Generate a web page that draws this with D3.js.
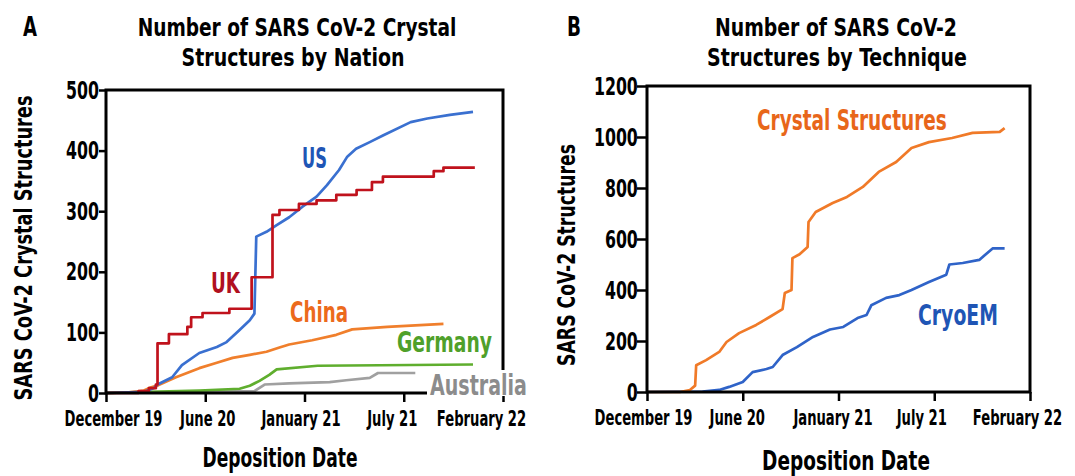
<!DOCTYPE html>
<html><head><meta charset="utf-8">
<script src="https://cdn.jsdelivr.net/npm/d3@7"></script>
<style>
body{margin:0;background:#fff;}
svg{display:block;}
text{font-family:"Liberation Sans Narrow","DejaVu Sans Condensed","Roboto Condensed",sans-serif;font-weight:bold;}
</style></head><body>
<svg id="chart" width="1075" height="476"></svg>
<script>
// ---------- data ----------
const tickDates = ["2019-12-01","2020-06-01","2021-01-01","2021-07-01","2022-02-01"];
const tickLabels = ["December 19","June 20","January 21","July 21","February 22"];
const yTicksA = [0,100,200,300,400,500];
const yTicksB = [0,200,400,600,800,1000,1200];

const ukData = [["2019-12-01",0],["2020-01-30",3],["2020-02-18",8],["2020-03-02",14],["2020-03-05",82],["2020-03-26",97],["2020-04-29",109],["2020-05-06",125],["2020-05-27",132],["2020-07-23",139],["2020-09-09",191],["2020-10-24",294],["2020-11-08",302],["2020-12-20",312],["2021-01-23",318],["2021-02-28",327],["2021-04-06",335],["2021-05-04",348],["2021-05-24",357],["2021-09-04",366],["2021-09-25",372],["2021-12-02",372]];
const usData = [["2019-12-01",0],["2020-02-09",2],["2020-02-27",8],["2020-03-05",14],["2020-04-01",26],["2020-04-19",46],["2020-05-21",66],["2020-06-26",76],["2020-07-17",84],["2020-08-14",104],["2020-09-05",120],["2020-09-15",131],["2020-09-19",258],["2020-10-11",266],["2020-11-02",277],["2020-11-29",290],["2020-12-27",307],["2021-01-23",324],["2021-02-11",343],["2021-03-05",368],["2021-03-20",390],["2021-04-05",403],["2021-04-30",414],["2021-05-24",425],["2021-07-16",447],["2021-08-21",453],["2021-10-09",459],["2021-11-28",464]];
const chinaData = [["2019-12-01",0],["2020-01-12",1],["2020-02-09",4],["2020-02-18",8],["2020-03-07",13],["2020-04-08",26],["2020-05-21",41],["2020-06-26",50],["2020-07-30",58],["2020-09-05",63],["2020-10-11",68],["2020-11-08",75],["2020-11-29",80],["2021-01-15",87],["2021-02-28",96],["2021-03-29",105],["2021-06-01",109],["2021-09-25",114]];
const germanyData = [["2019-12-01",0],["2020-02-18",2],["2020-05-21",4],["2020-08-14",7],["2020-09-05",12],["2020-09-26",20],["2020-10-17",30],["2020-11-02",39],["2021-01-25",45],["2021-11-28",47]];
const australiaData = [["2019-12-01",0],["2020-09-15",3],["2020-10-07",14],["2020-11-29",16],["2021-02-16",18],["2021-03-18",21],["2021-04-30",25],["2021-05-15",33],["2021-07-26",33]];

const crystalData = [["2019-12-01",0],["2020-02-02",0],["2020-02-21",8],["2020-03-02",25],["2020-03-04",105],["2020-03-23",125],["2020-04-17",157],["2020-05-01",196],["2020-05-25",231],["2020-07-01",263],["2020-07-31",294],["2020-08-29",325],["2020-09-03",388],["2020-09-18",400],["2020-09-20",525],["2020-10-06",540],["2020-10-24",569],["2020-10-26",667],["2020-11-11",706],["2020-12-19",741],["2021-01-17",765],["2021-02-16",804],["2021-03-18",863],["2021-04-20",902],["2021-05-19",957],["2021-06-21",980],["2021-08-10",996],["2021-09-25",1016],["2021-11-25",1020],["2021-12-06",1035]];
const cryoData = [["2019-12-01",0],["2020-03-16",2],["2020-04-17",8],["2020-05-06",20],["2020-06-01",39],["2020-06-23",78],["2020-07-24",90],["2020-08-07",98],["2020-08-29",145],["2020-09-30",176],["2020-11-05",216],["2020-12-13",245],["2021-01-10",255],["2021-02-06",290],["2021-02-23",302],["2021-03-04",340],["2021-04-01",369],["2021-04-26",380],["2021-05-19",400],["2021-06-21",431],["2021-07-28",460],["2021-08-04",500],["2021-09-03",506],["2021-10-10",518],["2021-11-09",563],["2021-12-06",563]];

// ---------- drawing ----------
const parse = d3.timeParse("%Y-%m-%d");
const svg = d3.select("#chart");

// text squeezed horizontally (via transform) to a target width
function txt(x, y, s, size, w, color, anchor, rot){
  const t = svg.append("text").attr("x", 0).attr("y", 0).text(s)
    .style("font-size", size + "px").attr("fill", color || "#000")
    .attr("text-anchor", anchor || "middle");
  const k = w / t.node().getComputedTextLength();
  t.attr("transform", `translate(${x},${y})${rot ? " rotate(-90)" : ""} scale(${k},1)`);
  return t;
}
// condense axis labels (x = 0 inside each tick group) by a common factor
function condense(sel, refWidth, shifts){
  const nodes = sel.nodes();
  const k = refWidth / nodes[0].getComputedTextLength();
  nodes.forEach((nd, i) => {
    const dx = shifts ? shifts[i] : 0;
    const t = d3.select(nd);
    const anchor = t.attr("text-anchor") || "middle";
    t.attr("transform", `translate(${dx},0) scale(${k},1)`);
    if (anchor === "end") t.attr("x", +t.attr("x") / k);
  });
}

function panel(cfg){
  const g = svg.append("g");
  const n = tickDates.length;
  const x = d3.scaleTime().domain(tickDates.map(parse))
    .range(tickDates.map((d,i)=> cfg.left + i*(cfg.right-cfg.left)/(n-1)));
  const y = d3.scaleLinear().domain([0, cfg.yMax]).range([cfg.bottom, cfg.top]);
  cfg.series.forEach(s=>{
    const line = d3.line().x(d=>x(parse(d[0]))).y(d=>y(d[1]))
      .curve(s.step ? d3.curveStepAfter : d3.curveLinear);
    g.append("path").datum(s.data).attr("fill","none").attr("stroke", s.color)
      .attr("stroke-width", 2.7).attr("stroke-linejoin","round").attr("d", line);
  });
  g.append("rect").attr("x", cfg.left).attr("y", cfg.top)
    .attr("width", cfg.right - cfg.left).attr("height", cfg.bottom - cfg.top)
    .attr("fill","none").attr("stroke","#000").attr("stroke-width",3);
  const ya = g.append("g").attr("transform",`translate(${cfg.left},0)`)
    .call(d3.axisLeft(y).tickValues(cfg.yTicks).tickFormat(d3.format("d"))
      .tickSize(cfg.yTickLen).tickSizeOuter(0).tickPadding(3));
  ya.select(".domain").remove();
  ya.selectAll("line").attr("stroke","#000").attr("stroke-width",2.5);
  ya.selectAll("text").style("font-size","25px").attr("fill","#000");
  condense(ya.selectAll("text"), 11);   // "0" is ~11px wide
  const xa = g.append("g").attr("transform",`translate(0,${cfg.bottom})`)
    .call(d3.axisBottom(x).tickValues(tickDates.map(parse)).tickFormat((d,i)=>tickLabels[i])
      .tickSize(9).tickSizeOuter(0).tickPadding(8));
  xa.select(".domain").remove();
  xa.selectAll("line").attr("stroke","#000").attr("stroke-width",2.5);
  xa.selectAll("text").style("font-size","22px").attr("fill","#000");
  condense(xa.selectAll("text"), 98, cfg.labelShift);
  return {g, x, y};
}

const colors = {us:"#3a70d0", uk:"#c0121c", china:"#f07f2c", germany:"#5fae2e", australia:"#a0a0a0",
  usL:"#1f56b6", ukL:"#b01020", chinaL:"#ec6a1c", germanyL:"#4fa02a", australiaL:"#8c8c8c",
  crystal:"#f07a28", crystalL:"#e8661a", cryo:"#2f63c8", cryoL:"#1f55b5"};

panel({left:106, right:503, top:90, bottom:393, yMax:500, yTicks:yTicksA, yTickLen:7,
  labelShift:[7,2,-4,-12,-22],
  series:[
    {data:australiaData, color:colors.australia},
    {data:germanyData, color:colors.germany},
    {data:chinaData, color:colors.china},
    {data:usData, color:colors.us},
    {data:ukData, color:colors.uk, step:true}
  ]});
panel({left:647, right:1030, top:86, bottom:392, yMax:1200, yTicks:yTicksB, yTickLen:10,
  labelShift:[-4,-6,-6,-13,-13],
  series:[
    {data:cryoData, color:colors.cryo},
    {data:crystalData, color:colors.crystal}
  ]});

// Australia label sits on a white patch over the frame
svg.append("rect").attr("x",427).attr("y",370).attr("width",106).attr("height",26).attr("fill","#fff");

// titles
txt(30, 36, "A", 27, 14, "#000");
txt(297, 36, "Number of SARS CoV-2 Crystal", 25, 319);
txt(293, 66, "Structures by Nation", 25, 223);
txt(574, 36, "B", 27, 14, "#000");
txt(836, 36, "Number of SARS CoV-2", 25, 242);
txt(837, 66, "Structures by Technique", 25, 260);

// axis titles
txt(32, 248, "SARS CoV-2 Crystal Structures", 25, 305, "#000", "middle", true);
txt(575, 255, "SARS CoV-2 Structures", 25, 222, "#000", "middle", true);
txt(280, 467, "Deposition Date", 26, 155);
txt(846, 470, "Deposition Date", 26, 168);

// series labels
txt(302, 168, "US", 28, 25, colors.usL, "start");
txt(211, 293, "UK", 28, 29, colors.ukL, "start");
txt(290, 322, "China", 28, 58, colors.chinaL, "start");
txt(397, 352, "Germany", 28, 95, colors.germanyL, "start");
txt(430, 395, "Australia", 29, 97, colors.australiaL, "start");
txt(757, 130, "Crystal Structures", 28, 190, colors.crystalL, "start");
txt(918, 325, "CryoEM", 28, 80, colors.cryoL, "start");
</script>
</body></html>
